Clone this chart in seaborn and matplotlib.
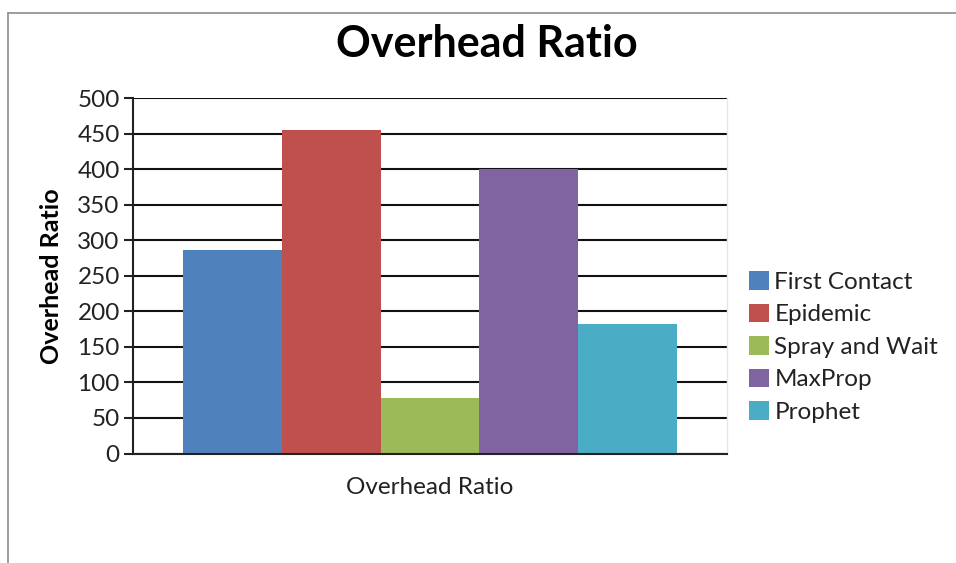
import matplotlib
matplotlib.use("Agg")
import matplotlib.pyplot as plt
import seaborn as sns
import pandas as pd
from matplotlib.lines import Line2D

# ---- data ----
categories = ["Overhead Ratio"]
protocols = ["First Contact", "Epidemic", "Spray and Wait", "MaxProp", "Prophet"]
values = [286, 455, 78, 400, 182]
colors = ["#4F81BD", "#C0504D", "#9BBB59", "#8064A2", "#4BACC6"]
yticks = [0, 50, 100, 150, 200, 250, 300, 350, 400, 450, 500]

df = pd.DataFrame({"category": categories * len(protocols),
                   "protocol": protocols,
                   "value": values})

sns.set_theme(style="white")
plt.rcParams["font.family"] = ["Lato", "DejaVu Sans"]

fig = plt.figure(figsize=(9.56, 5.63), dpi=100)
ax = fig.add_axes([133 / 956, 1 - 453.5 / 563, 594 / 956, 355.2 / 563])

sns.barplot(data=df, x="category", y="value", hue="protocol",
            hue_order=protocols, palette=colors, width=0.832,
            saturation=1, ax=ax, legend=True, edgecolor="none", linewidth=0)

ax.set_xlim(-0.5, 0.5)
ax.set_ylim(0, 500)
ax.set_yticks(yticks)
ax.set_yticklabels([str(t) for t in yticks], fontsize=17.5, color="#222222")
ax.tick_params(axis="y", length=6.5, width=1.5, color="#222222", pad=3, direction="out", left=True)
ax.tick_params(axis="x", length=0, pad=17, labelsize=17.5, labelcolor="#222222")
ax.set_xlabel("")
ax.set_ylabel("Overhead Ratio", fontsize=18, fontweight="bold", color="black")
ax.yaxis.set_label_coords(-0.118, 0.5)

ax.set_axisbelow(True)
ax.yaxis.grid(True, color="#111111", linewidth=1.5)
ax.xaxis.grid(False)

for s in ["left", "bottom"]:
    ax.spines[s].set_color("#222222")
    ax.spines[s].set_linewidth(1.5)
ax.spines["top"].set_visible(False)
ax.spines["right"].set_color("#e6e6e6")
ax.spines["right"].set_linewidth(1.0)

ax.set_title("")
fig.text(487 / 956, 1 - 44 / 563, "Overhead Ratio", ha="center", va="center",
         fontsize=31, fontweight="bold", color="black")

leg = ax.legend(loc="center left", bbox_to_anchor=(749 / 956, 1 - 347 / 563),
                bbox_transform=fig.transFigure, frameon=False, fontsize=17.5,
                handlelength=0.82, handleheight=0.8, handletextpad=0.22,
                labelspacing=0.445, borderpad=0, borderaxespad=0)
for t in leg.get_texts():
    t.set_color("#222222")

# outer chart frame (partially cropped)
fig.add_artist(Line2D([8 / 956, 1.0], [1 - 13 / 563, 1 - 13 / 563],
                      transform=fig.transFigure, color="#8c8c8c", linewidth=1.2))
fig.add_artist(Line2D([8 / 956, 8 / 956], [0.0, 1 - 13 / 563],
                      transform=fig.transFigure, color="#8c8c8c", linewidth=1.2))

fig.savefig("out.png", dpi=100, facecolor="white")
